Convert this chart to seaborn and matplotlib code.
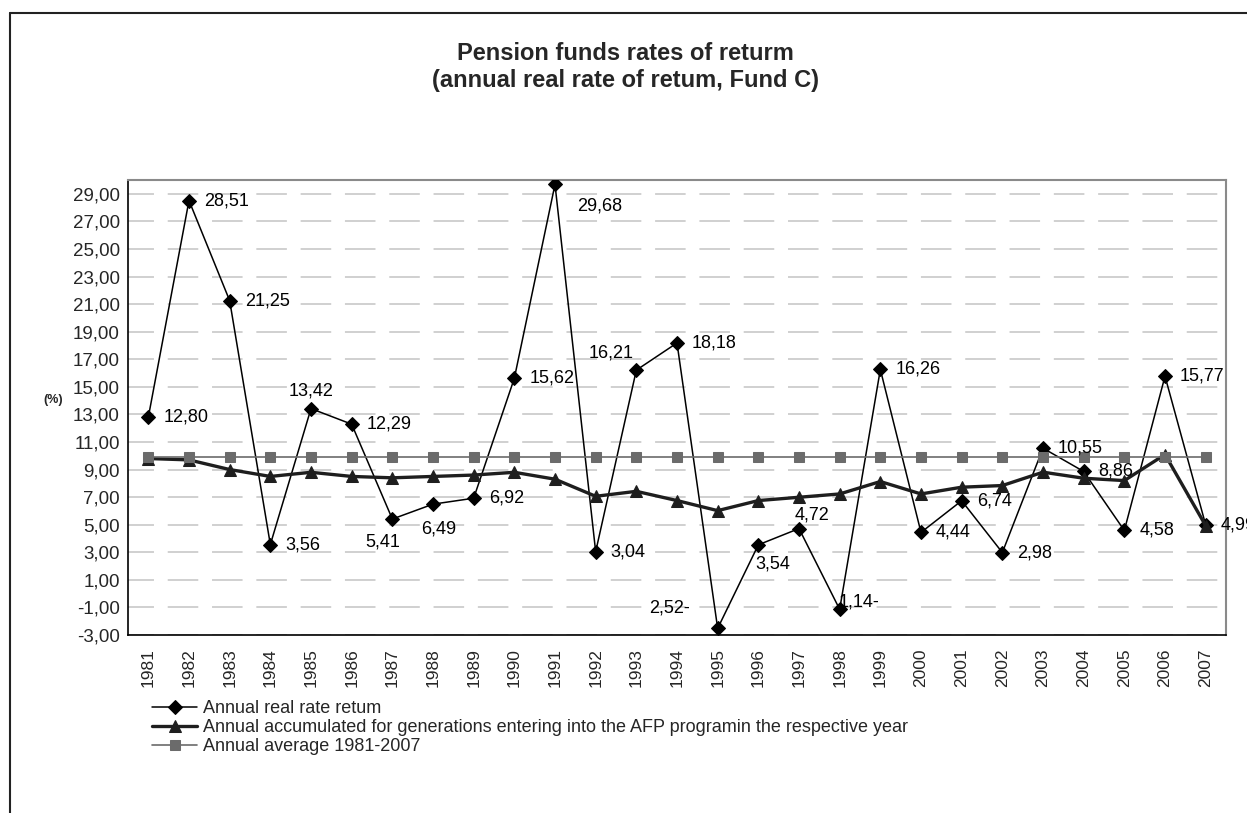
import numpy as np
import pandas as pd
import matplotlib
matplotlib.use("Agg")
import matplotlib.pyplot as plt
import seaborn as sns
from matplotlib.lines import Line2D

# data
years = list(range(1981, 2008))
real_return = [12.80, 28.51, 21.25, 3.56, 13.42, 12.29, 5.41, 6.49, 6.92, 15.62,
               29.68, 3.04, 16.21, 18.18, -2.52, 3.54, 4.72, -1.14, 16.26, 4.44,
               6.74, 2.98, 10.55, 8.86, 4.58, 15.77, 4.99]
accumulated = [9.80, 9.70, 9.00, 8.50, 8.80, 8.50, 8.40, 8.50, 8.60, 8.80,
               8.30, 7.06, 7.42, 6.75, 6.02, 6.75, 6.99, 7.23, 8.13, 7.23,
               7.72, 7.84, 8.81, 8.37, 8.20, 10.09, 4.93]
average = [9.88] * 27
# labels as printed in the chart (minus sign trails on the two negatives)
point_labels = ["12,80", "28,51", "21,25", "3,56", "13,42", "12,29", "5,41", "6,49", "6,92",
                "15,62", "29,68", "3,04", "16,21", "18,18", "2,52-", "3,54", "4,72", "1,14-",
                "16,26", "4,44", "6,74", "2,98", "10,55", "8,86", "4,58", "15,77", "4,99"]
yticks = np.arange(-3, 30, 2)

series_names = ["Annual real rate retum",
                "Annual accumulated for generations entering into the AFP programin the respective year",
                "Annual average 1981-2007"]

df = pd.DataFrame({"year": years, "real": real_return, "acc": accumulated, "avg": average})

sns.set_style("white")
plt.rcParams["font.family"] = ["Liberation Sans", "DejaVu Sans"]

W, H = 1247, 813
fig = plt.figure(figsize=(W / 100, H / 100), dpi=100)


def fx(x):
    return x / W


def fy(y):
    return 1 - y / H


ax = fig.add_axes([fx(128), fy(635), fx(1226) - fx(128), fy(180) - fy(635)])

sns.lineplot(data=df, x="year", y="real", ax=ax, color="black", lw=1.1,
             marker="D", markersize=7.5, markeredgecolor="black", label=series_names[0], zorder=3)
sns.lineplot(data=df, x="year", y="acc", ax=ax, color="#1e1e1e", lw=2.4,
             marker="^", markersize=9, markeredgecolor="#1e1e1e", label=series_names[1], zorder=4)
sns.lineplot(data=df, x="year", y="avg", ax=ax, color="#6b6b6b", lw=1.2,
             marker="s", markersize=6.5, markeredgecolor="#6b6b6b", label=series_names[2], zorder=5)

ax.set_xlim(1980.5, 2007.5)
ax.set_ylim(-3, 30)
ax.set_yticks(yticks)
ax.set_yticklabels([f"{v:.2f}".replace(".", ",") for v in yticks], fontsize=13.5)
ax.set_xticks(years)
ax.set_xticklabels([str(y) for y in years], rotation=90, fontsize=12.5)
ax.set_xticks(np.arange(1980.5, 2008, 1), minor=True)
ax.tick_params(axis="x", which="major", length=0, pad=9.5)
ax.tick_params(axis="x", which="minor", length=4, width=1, color="black", direction="out")
ax.tick_params(axis="y", length=4, width=1, color="black", direction="out", pad=2)
ax.set_xlabel("")
ax.set_ylabel("")

ax.yaxis.grid(True, color="#c4c4c4", lw=1.1, linestyle=(3, (20, 9)))
ax.set_axisbelow(True)
for side in ["left", "bottom"]:
    ax.spines[side].set_color("black")
    ax.spines[side].set_linewidth(1.2)
for side in ["top", "right"]:
    ax.spines[side].set_color("#8a8a8a")
    ax.spines[side].set_linewidth(1.5)

# label placement, offsets in pixels (dx, dy, ha)
offsets = {1985: (0, 18, "center"), 1987: (-10, -23, "center"), 1988: (6, -25, "center"),
           1991: (22, -22, "left"), 1993: (-25, 17, "center"), 1995: (-28, 20, "right"),
           1996: (14, -19, "center"), 1997: (13, 14, "center"), 1998: (-1, 7, "left")}
for yr, val, txt in zip(years, real_return, point_labels):
    dx, dy, ha = offsets.get(yr, (15, 0, "left"))
    ax.annotate(txt, (yr, val), xytext=(dx, dy), textcoords="offset pixels",
                ha=ha, va="center", fontsize=13, color="black", annotation_clip=False, zorder=6)

ax.legend(loc="upper left", bbox_to_anchor=(fx(152), fy(700)), bbox_transform=fig.transFigure,
          frameon=False, fontsize=13, handlelength=2.5, handletextpad=0.3,
          labelspacing=0.12, borderpad=0, borderaxespad=0)

fig.text(fx(53), fy(400), "(%)", fontsize=9, fontweight="bold", ha="center", va="center")
fig.text(fx(625), fy(53), "Pension funds rates of returm", fontsize=17, fontweight="bold",
         ha="center", va="center")
fig.text(fx(625), fy(81), "(annual real rate of retum, Fund C)", fontsize=17, fontweight="bold",
         ha="center", va="center")

# outer frame of the original figure box
fig.add_artist(Line2D([fx(10), 1], [fy(13), fy(13)], transform=fig.transFigure, color="#222222", lw=1.5))
fig.add_artist(Line2D([fx(10), fx(10)], [fy(13), 0], transform=fig.transFigure, color="#222222", lw=1.5))

fig.savefig("out.png", dpi=100)
